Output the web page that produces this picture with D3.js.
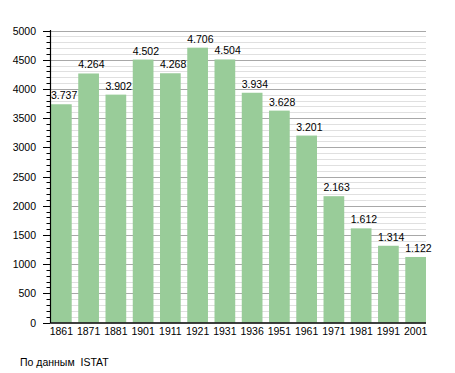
<!DOCTYPE html>
<html><head><meta charset="utf-8">
<script src="https://cdn.jsdelivr.net/npm/d3@7"></script>
<style>body{margin:0;background:#fff}svg{display:block}text{font-family:"Liberation Sans",Arial,sans-serif;}</style>
</head><body>
<script>
const years = ["1861","1871","1881","1901","1911","1921","1931","1936","1951","1961","1971","1981","1991","2001"];
const population = [3737,4264,3902,4502,4268,4706,4504,3934,3628,3201,2163,1612,1314,1122];
const yTicks = [0,500,1000,1500,2000,2500,3000,3500,4000,4500,5000];
const sourceText = "По данным  ISTAT";

const W = 455, H = 373, FS = 10.5;
const svg = d3.select("body").append("svg").attr("width", W).attr("height", H);
const x = d3.scaleBand().domain(years).range([51, 426]).paddingInner(0.24).paddingOuter(0);
const y = d3.scaleLinear().domain([0, 5000]).range([322.5, 30.5]);
const x0 = 50.5, x1 = 426;

// minor gridlines
const minor = d3.range(100, 5001, 100).filter(v => v % 500 !== 0);
svg.append("g").selectAll("line").data(minor).join("line")
  .attr("x1", x0).attr("x2", x1)
  .attr("y1", d => Math.round(y(d)) + 0.5).attr("y2", d => Math.round(y(d)) + 0.5)
  .attr("stroke", "#e0e0e0").attr("stroke-width", 1);
// major gridlines
svg.append("g").selectAll("line").data(yTicks.filter(v => v > 0)).join("line")
  .attr("x1", x0).attr("x2", x1)
  .attr("y1", d => Math.round(y(d)) + 0.5).attr("y2", d => Math.round(y(d)) + 0.5)
  .attr("stroke", "#a8a8a8").attr("stroke-width", 1);

// bars
svg.append("g").selectAll("rect").data(population).join("rect")
  .attr("x", (d, i) => x(years[i]))
  .attr("width", x.bandwidth())
  .attr("y", d => y(d))
  .attr("height", d => y(0) - y(d))
  .attr("fill", "#99cc99");

// value labels
const fmt = v => d3.format(",")(v).replace(/,/g, ".");
svg.append("g").selectAll("text").data(population).join("text")
  .attr("x", (d, i) => x(years[i]))
  .attr("y", d => y(d) - 5)
  .attr("font-size", FS).attr("fill", "#000")
  .text(d => fmt(d));

// y axis ticks
svg.append("g").selectAll("line").data(minor).join("line")
  .attr("x1", 46.5).attr("x2", x0)
  .attr("y1", d => Math.round(y(d)) + 0.5).attr("y2", d => Math.round(y(d)) + 0.5)
  .attr("stroke", "#000");
svg.append("g").selectAll("line").data(yTicks).join("line")
  .attr("x1", 43).attr("x2", x0)
  .attr("y1", d => Math.round(y(d)) + 0.5).attr("y2", d => Math.round(y(d)) + 0.5)
  .attr("stroke", "#000");
svg.append("g").selectAll("text").data(yTicks).join("text")
  .attr("x", 36).attr("y", d => y(d) + 4)
  .attr("text-anchor", "end").attr("font-size", FS)
  .text(d => d);

// axis lines
svg.append("line").attr("x1", x0).attr("x2", x0).attr("y1", 30).attr("y2", 323)
  .attr("stroke", "#000").attr("stroke-width", 1.2);
svg.append("line").attr("x1", x0).attr("x2", x1).attr("y1", 323).attr("y2", 323)
  .attr("stroke", "#000").attr("stroke-width", 1.5);

// x labels
svg.append("g").selectAll("text").data(years).join("text")
  .attr("x", d => x(d) + x.bandwidth() / 2)
  .attr("y", 335)
  .attr("text-anchor", "middle").attr("font-size", FS)
  .text(d => d);

svg.append("text").attr("x", 20).attr("y", 366).attr("font-size", FS)
  .style("white-space", "pre").text(sourceText);
</script>
</body></html>
